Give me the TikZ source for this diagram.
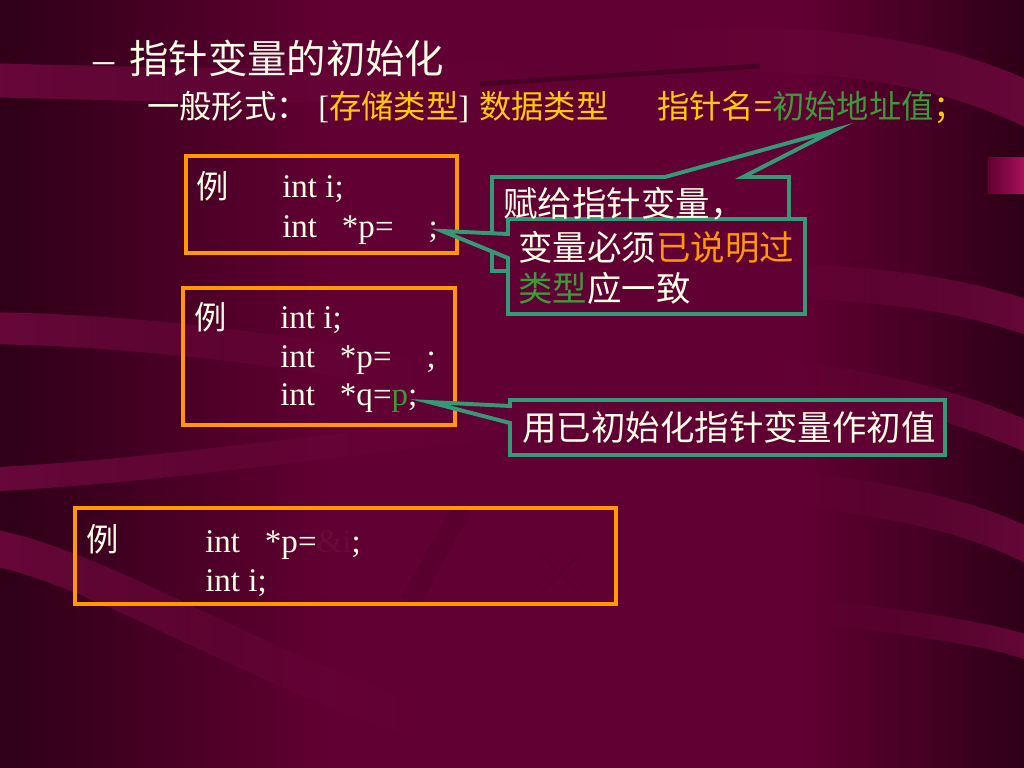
\documentclass[tikz,border=0pt]{standalone}
\usepackage{fontspec}
\usetikzlibrary{fadings}
\setmainfont{Liberation Serif}
\newfontfamily\cjk{Noto Sans CJK SC}

\definecolor{slidebg}{HTML}{610032}
\definecolor{bgdark}{HTML}{2E0016}
\definecolor{ribboncol}{HTML}{6C083C}
\definecolor{chalk}{HTML}{FFFFE8}
\definecolor{gold}{HTML}{FFCC00}
\definecolor{boxorange}{HTML}{FF9900}
\definecolor{calloutgreen}{HTML}{339977}
\definecolor{textgreen}{HTML}{3C9A3C}
\definecolor{faint}{HTML}{6A0A38}
\definecolor{tabpink}{HTML}{A8105C}

\tikzfading[name=keepleft, left color=transparent!0, middle color=transparent!15, right color=transparent!100]
\tikzfading[name=keepright, left color=transparent!100, middle color=transparent!15, right color=transparent!0]

\tikzset{
	codebox/.style={draw=boxorange, line width=2.8pt},
	callout/.style={draw=calloutgreen, fill=slidebg, line width=2.8pt, line join=miter},
	codeline/.style={anchor=base west, inner sep=0pt, text=chalk, font=\fontsize{23.5}{28}\selectfont},
	cjkline/.style={anchor=base west, inner sep=0pt, text=chalk, font=\cjk\fontsize{24.5}{29}\selectfont},
	ribbon/.style={draw=ribboncol},
}

\begin{document}
\begin{tikzpicture}[x=0.025cm, y=-0.025cm]
		\useasboundingbox (0,0) rectangle (1024,768);
		% background ribbons
		\fill[slidebg] (0,0) rectangle (1024,768);
		\shade[left color=bgdark, right color=slidebg] (0,0) rectangle (330,768);
		\shade[left color=slidebg, right color=bgdark] (800,0) rectangle (1024,768);
		\draw[ribbon, line width=0.85cm, path fading=keepleft] (-20,80) .. controls (150,84) and (350,92) .. (560,72);
		\draw[ribbon, line width=1.1cm, path fading=keepright] (640,52) .. controls (850,40) and (960,70) .. (1040,110);
		\draw[bgdark, opacity=.5, line width=0.12cm] (480,84) .. controls (600,76) and (700,70) .. (760,66);
		\draw[ribbon, line width=0.8cm, path fading=keepleft] (-20,328) .. controls (150,330) and (300,352) .. (460,382);
		\draw[ribbon, line width=0.6cm, path fading=keepleft] (-20,480) .. controls (150,472) and (300,448) .. (560,420);
		\draw[ribbon, line width=0.9cm, path fading=keepleft] (-20,545) .. controls (100,565) and (230,660) .. (440,728);
		\draw[ribbon, line width=0.85cm, path fading=keepright] (720,280) .. controls (900,280) and (980,300) .. (1040,322);
		\draw[ribbon, line width=0.75cm, path fading=keepright] (760,372) .. controls (920,390) and (990,420) .. (1040,442);
		\draw[ribbon, line width=0.85cm, path fading=keepright] (790,488) .. controls (940,505) and (1000,530) .. (1040,552);
		\draw[ribbon, line width=0.6cm, path fading=keepright] (820,612) .. controls (960,628) and (1010,640) .. (1040,652);
		\draw[bgdark, opacity=.12, line width=0.5cm] (462,508) -- (410,602);
		\shade[left color=slidebg, right color=tabpink] (988,158) rectangle (1024,193);
		\draw[bgdark, opacity=.2, line width=1pt] (542,556) -- (578,592) (578,556) -- (542,592);

		% title and general form
		\node[anchor=base west, inner sep=0pt, text=chalk, font=\fontsize{30}{34}\selectfont] (dash) at (93,74) {--};
		\node[anchor=base west, inner sep=0pt, text=chalk, font=\cjk\fontsize{28}{32}\selectfont] (title) at (129,74) {指针变量的初始化};
		\node[anchor=base west, inner sep=0pt, text=chalk, font=\cjk\fontsize{23}{27}\selectfont] (form) at (147,119) {一般形式：};
		\node[anchor=base west, inner sep=0pt, text=chalk, font=\fontsize{23}{27}\selectfont] (storage) at (318,119) {[\textcolor{gold}{\cjk 存储类型}]};
		\node[anchor=base west, inner sep=0pt, text=gold, font=\cjk\fontsize{23}{27}\selectfont] (dtype) at (479,119) {数据类型};
		\node[anchor=base west, inner sep=0pt, text=gold, font=\cjk\fontsize{23}{27}\selectfont] (pname) at (657,119) {指针名=\textcolor{textgreen}{初始地址值}；};

		% example boxes
		\draw[codebox] (186,156) rectangle (457,253);
		\draw[codebox] (183,288) rectangle (455,425);
		\draw[codebox] (75,508) rectangle (616,604);

		\node[cjkline, font=\cjk\fontsize{23}{27}\selectfont] (ex1) at (196,198) {例};
		\node[codeline] (ex1a) at (282,197) {int i;};
		\node[codeline] (ex1b) at (282,237) {int\ \ \ *p=\phantom{\&i};};

		\node[cjkline, font=\cjk\fontsize{23}{27}\selectfont] (ex2) at (194,329) {例};
		\node[codeline] (ex2a) at (280,328) {int i;};
		\node[codeline] (ex2b) at (280,367) {int\ \ \ *p=\phantom{\&i};};
		\node[codeline] (ex2c) at (280,405) {int\ \ \ *q=\textcolor{textgreen}{p};};

		\node[cjkline, font=\cjk\fontsize{23}{27}\selectfont] (ex3) at (86,551) {例};
		\node[codeline] (ex3a) at (205,552) {int\ \ \ *p=\textcolor{faint}{\&i};};
		\node[codeline] (ex3b) at (205,591) {int i;};

		% callouts
		\coordinate (tipA) at (835,130);
		\coordinate (tipB) at (442,231);
		\coordinate (tipC) at (429,402);
		\draw[callout] (492,177) -- (665,177) -- (tipA) -- (743,177) -- (789,177) -- (789,271) -- (492,271) -- cycle;
		\draw[callout] (508,219) -- (805,219) -- (805,314) -- (508,314) -- (508,258) -- (tipB) -- (508,234) -- cycle;
		\draw[callout] (510,400) -- (945,400) -- (945,455) -- (510,455) -- (510,423) -- (tipC) -- (510,406) -- cycle;

		\node[cjkline] (assign) at (503,216) {赋给指针变量，};
		\node[cjkline] (must) at (518,260) {变量必须\textcolor{boxorange}{已说明过}};
		\node[cjkline] (same) at (518,301) {\textcolor{textgreen}{类型}应一致};
		\node[cjkline] (reuse) at (522,440) {用已初始化指针变量作初值};
\end{tikzpicture}
\end{document}
